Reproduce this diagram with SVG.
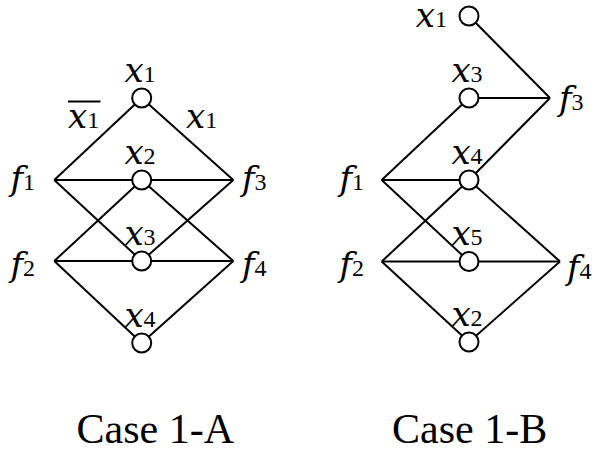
<svg xmlns="http://www.w3.org/2000/svg" width="600" height="453" viewBox="0 0 600 453">
<style>
.e{stroke:#000;stroke-width:2;fill:none}
.n{fill:#fff;stroke:#000;stroke-width:2}
text{font-family:"Liberation Serif","Times New Roman",serif;fill:#000}
.v{font-family:"DejaVu Serif","Liberation Serif",serif;font-style:italic;font-size:34px}
.s{font-family:"Liberation Serif","Times New Roman",serif;font-style:normal;font-size:24px}
.c{font-size:42px}
.m{text-anchor:middle}
.r{text-anchor:end}
</style>
<g id="connectors">
<line class="e" x1="141.7" y1="98" x2="54.3" y2="180"/>
<line class="e" x1="141.7" y1="98" x2="233.3" y2="180"/>
<line class="e" x1="54.3" y1="180" x2="233.3" y2="180"/>
<line class="e" x1="54.3" y1="180" x2="141.7" y2="261"/>
<line class="e" x1="141.7" y1="261" x2="233.3" y2="180"/>
<line class="e" x1="54.3" y1="261" x2="141.7" y2="180"/>
<line class="e" x1="141.7" y1="180" x2="233.3" y2="261"/>
<line class="e" x1="54.3" y1="261" x2="233.3" y2="261"/>
<line class="e" x1="54.3" y1="261" x2="141.7" y2="343"/>
<line class="e" x1="141.7" y1="343" x2="233.3" y2="261"/>
<line class="e" x1="469" y1="16" x2="550" y2="98"/>
<line class="e" x1="469" y1="98" x2="550" y2="98"/>
<line class="e" x1="381.7" y1="180" x2="469" y2="98"/>
<line class="e" x1="469" y1="180" x2="550" y2="98"/>
<line class="e" x1="381.7" y1="180" x2="469" y2="180"/>
<line class="e" x1="381.7" y1="180" x2="469" y2="261.5"/>
<line class="e" x1="381.7" y1="261.5" x2="469" y2="180"/>
<line class="e" x1="469" y1="180" x2="560" y2="261.5"/>
<line class="e" x1="381.7" y1="261.5" x2="560" y2="261.5"/>
<line class="e" x1="381.7" y1="261.5" x2="469" y2="342"/>
<line class="e" x1="469" y1="342" x2="560" y2="261.5"/>
</g>
<g id="edge-labels">
<g id="label-not-x1"><text class="v" x="68" y="128">x<tspan class="s">1</tspan></text><line x1="68" y1="101.5" x2="100.5" y2="101.5" stroke="#000" stroke-width="1.8"/></g>
<text class="v" x="186" y="128">x<tspan class="s">1</tspan></text>
</g>
<g id="A-x1"><circle class="n" cx="141.7" cy="98" r="9.5"/><text class="v m" x="140" y="82">x<tspan class="s">1</tspan></text></g>
<g id="A-x2"><circle class="n" cx="141.7" cy="180" r="9.5"/><text class="v m" x="140" y="164">x<tspan class="s">2</tspan></text></g>
<g id="A-x3"><circle class="n" cx="141.7" cy="261" r="9.5"/><text class="v m" x="140" y="245">x<tspan class="s">3</tspan></text></g>
<g id="A-x4"><circle class="n" cx="141.7" cy="343" r="9.5"/><text class="v m" x="140" y="327">x<tspan class="s">4</tspan></text></g>
<g id="A-f1"><text class="v r" x="35" y="190">f<tspan class="s">1</tspan></text></g>
<g id="A-f2"><text class="v r" x="35" y="276">f<tspan class="s">2</tspan></text></g>
<g id="A-f3"><text class="v" x="242" y="190">f<tspan class="s">3</tspan></text></g>
<g id="A-f4"><text class="v" x="242" y="276">f<tspan class="s">4</tspan></text></g>
<g id="B-x1"><circle class="n" cx="469" cy="16" r="9.5"/><text class="v r" x="447" y="27">x<tspan class="s">1</tspan></text></g>
<g id="B-x3"><circle class="n" cx="469" cy="98" r="9.5"/><text class="v m" x="467" y="82">x<tspan class="s">3</tspan></text></g>
<g id="B-x4"><circle class="n" cx="469" cy="180" r="9.5"/><text class="v m" x="467" y="164">x<tspan class="s">4</tspan></text></g>
<g id="B-x5"><circle class="n" cx="469" cy="261.5" r="9.5"/><text class="v m" x="467" y="245">x<tspan class="s">5</tspan></text></g>
<g id="B-x2"><circle class="n" cx="469" cy="342" r="9.5"/><text class="v m" x="467" y="326">x<tspan class="s">2</tspan></text></g>
<g id="B-f1"><text class="v r" x="364" y="190">f<tspan class="s">1</tspan></text></g>
<g id="B-f2"><text class="v r" x="364" y="276">f<tspan class="s">2</tspan></text></g>
<g id="B-f3"><text class="v" x="559" y="110">f<tspan class="s">3</tspan></text></g>
<g id="B-f4"><text class="v" x="567" y="279">f<tspan class="s">4</tspan></text></g>
<g id="captions">
<text class="c" x="76.5" y="443">Case 1-A</text>
<text class="c" x="392" y="443">Case 1-B</text>
</g>
</svg>
